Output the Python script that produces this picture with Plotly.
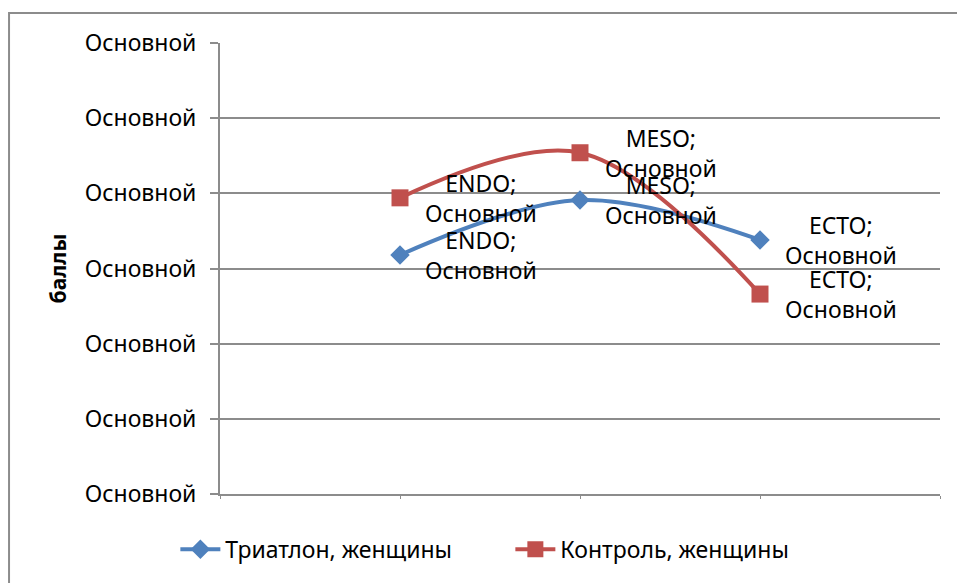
import plotly.graph_objects as go

# Somatotype components and mean scores
categories = ["ENDO", "MESO", "ECTO"]
triathlon_women = [3.18, 3.91, 3.38]
control_women = [3.94, 4.54, 2.66]

series_names = ["Триатлон, женщины", "Контроль, женщины"]
series_colors = ["#4F81BD", "#C0504D"]
series_symbols = ["diamond", "square"]
series_sizes = [15, 17]

# The value number format renders every number as this word
value_format_text = "Основной"
y_tick_values = [0, 1, 2, 3, 4, 5, 6]
y_tick_labels = [value_format_text] * len(y_tick_values)

FONT = "Noto Sans, Open Sans, sans-serif"
GRID = "#8C8C8C"

# categories sit on the inner ticks of a 0..N+1 axis
x_pos = [i + 1 for i in range(len(categories))]

fig = go.Figure()
annotations = []
for name, vals, color, sym, size in zip(series_names, [triathlon_women, control_women],
                                        series_colors, series_symbols, series_sizes):
    fig.add_trace(go.Scatter(
        x=x_pos, y=vals, name=name, mode="lines+markers",
        line=dict(color=color, width=4, shape="spline", smoothing=1.0),
        marker=dict(symbol=sym, size=size, color=color, line=dict(width=0)),
        hoverinfo="skip",
    ))
    for xp, cat, v in zip(x_pos, categories, vals):
        annotations.append(dict(
            x=xp, y=v, xref="x", yref="y",
            text=f"{cat};<br>{value_format_text}",
            showarrow=False, xanchor="left", yanchor="middle",
            xshift=23, align="center",
            font=dict(family=FONT, size=23, color="black"),
        ))

fig.update_layout(
    width=957, height=583,
    margin=dict(l=220, r=17, t=43, b=89, autoexpand=False),
    paper_bgcolor="white", plot_bgcolor="white",
    font=dict(family=FONT, size=23, color="black"),
    showlegend=True,
    legend=dict(orientation="h", x=-0.062, xanchor="left", y=-0.075, yanchor="top",
                font=dict(family=FONT, size=23, color="black"),
                itemwidth=40, entrywidth=280, entrywidthmode="pixels",
                traceorder="normal", bgcolor="rgba(0,0,0,0)"),
    annotations=annotations,
    shapes=[dict(type="rect", xref="paper", yref="paper",
                 x0=-0.293, x1=1.1, y0=-0.3, y1=1.0665,
                 line=dict(color="#8C8C8C", width=2), fillcolor="rgba(0,0,0,0)", layer="below")],
)

fig.update_xaxes(
    range=[0, len(categories) + 1], tickvals=list(range(len(categories) + 2)),
    showticklabels=False, showgrid=False, zeroline=False,
    showline=True, linecolor=GRID, linewidth=2,
    ticks="outside", ticklen=3, tickcolor=GRID, tickwidth=1,
    fixedrange=True,
)
fig.update_yaxes(
    range=[0, 6], tickvals=y_tick_values, ticktext=y_tick_labels,
    showgrid=True, gridcolor=GRID, gridwidth=1.5, zeroline=False,
    showline=True, linecolor=GRID, linewidth=2,
    ticks="outside", ticklen=8, tickcolor=GRID, tickwidth=1.5,
    ticklabelstandoff=9,
    title=dict(text="<b>баллы</b>", font=dict(family=FONT, size=21, color="black"), standoff=12),
    fixedrange=True,
)

fig.write_html("out.html")
